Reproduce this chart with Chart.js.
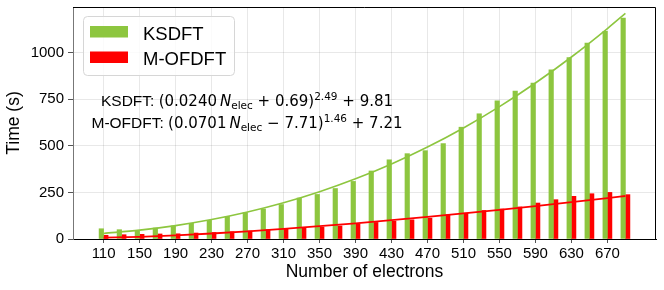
<!DOCTYPE html>
<html>
<head>
<meta charset="utf-8">
<script src="https://cdn.jsdelivr.net/npm/chart.js@4.4.1/dist/chart.umd.min.js"></script>
<style>
  body { margin: 0; background: #fff; }
  canvas { display: block; }
</style>
</head>
<body>
<canvas id="timeChart" width="664" height="290"></canvas>
<script>
// number of electrons for each bar pair
const nElec = [110, 130, 150, 170, 190, 210, 230, 250, 270, 290,
               310, 330, 350, 370, 390, 410, 430, 450, 470, 490,
               510, 530, 550, 570, 590, 610, 630, 650, 670, 690];
// wall time (s)
const ksdftTime = [55, 50, 46, 59, 70, 84, 100, 121, 141, 161,
                   185, 220, 239, 271, 309, 365, 425, 458, 474, 512,
                   600, 672, 742, 794, 837, 908, 973, 1051, 1114, 1186];
const mofdftTime = [20, 23, 25, 27, 28, 32, 35, 39, 43, 50,
                    57, 59, 64, 70, 82, 89, 96, 103, 112, 130,
                    139, 153, 161, 172, 193, 211, 229, 243, 250, 238];
// fitted curves (values of the printed fits)
const fitN = [110, 150, 190, 230, 270, 310, 350, 390, 430, 470, 510, 550, 590, 630, 670, 690];
const ksdftFit = [29.8, 47.4, 71.9, 104.2, 144.8, 194.3, 253.5, 322.7, 402.5, 493.3,
                  595.8, 710.2, 837.1, 976.7, 1129.3, 1210.8];
const mofdftFit = [7.2, 11.7, 19.6, 29.6, 41.3, 54.4, 68.9, 84.4, 101.0, 118.6,
                   137.2, 156.6, 176.8, 197.8, 219.6, 230.7];
// axis ticks
const xTickValues = [110, 150, 190, 230, 270, 310, 350, 390, 430, 470, 510, 550, 590, 630, 670];
const yTickValues = [0, 250, 500, 750, 1000];
const seriesNames = ['KSDFT', 'M-OFDFT'];
// fit labels: [text, kind]
const fitLabels = [
    [['KSDFT: ', 't'], ['(0.0240', 'm'], ['\u2009', 'm'], ['N', 'i'], ['elec', 'sub'],
     [' + 0.69)', 'm'], ['2.49', 'sup'], [' + 9.81', 'm']],
    [['M-OFDFT: ', 't'], ['(0.0701', 'm'], ['\u2009', 'm'], ['N', 'i'], ['elec', 'sub'],
     [' \u2212 7.71)', 'm'], ['1.46', 'sup'], [' + 7.21', 'm']]
];

const green = '#8dc63f';
const red = '#ff0000';
const sans = '"Liberation Sans", Arial, sans-serif';
const mathFont = '"DejaVu Sans", sans-serif';

Chart.defaults.font.family = sans;
Chart.defaults.color = '#000';

function partFont(kind) {
    if (kind === 't') return '15.5px ' + sans;
    if (kind === 'i') return 'italic 15px ' + mathFont;
    if (kind === 'sub' || kind === 'sup') return '10.5px ' + mathFont;
    return '15px ' + mathFont;
}

function drawRich(ctx, parts, cx, baseY) {
    let total = 0;
    parts.forEach(p => { ctx.font = partFont(p[1]); total += ctx.measureText(p[0]).width; });
    let x = cx - total / 2;
    parts.forEach(p => {
        ctx.font = partFont(p[1]);
        let dy = 0;
        if (p[1] === 'sub') dy = 3;
        if (p[1] === 'sup') dy = -6.5;
        ctx.fillText(p[0], x, baseY + dy);
        x += ctx.measureText(p[0]).width;
    });
}

const overlay = {
    id: 'overlay',
    afterDraw(chart) {
        const ctx = chart.ctx;
        const a = chart.chartArea;
        ctx.save();
        // top and right spines
        ctx.strokeStyle = '#000';
        ctx.lineWidth = 1;
        ctx.beginPath();
        ctx.moveTo(a.left, a.top + 0.5);
        ctx.lineTo(a.right - 0.5, a.top + 0.5);
        ctx.lineTo(a.right - 0.5, a.bottom);
        ctx.stroke();

        // legend box
        const lx = a.left + 10, ly = a.top + 9;
        ctx.beginPath();
        ctx.roundRect(lx + 0.5, ly + 0.5, 151, 59, 4);
        ctx.fillStyle = 'rgba(255,255,255,0.8)';
        ctx.fill();
        ctx.strokeStyle = '#d6d6d6';
        ctx.stroke();
        [green, red].forEach((c, i) => {
            ctx.fillStyle = c;
            ctx.fillRect(lx + 7, ly + 10 + i * 25.5, 38, 11.5);
            ctx.fillStyle = '#000';
            ctx.font = '18.5px ' + sans;
            ctx.textBaseline = 'alphabetic';
            ctx.fillText(seriesNames[i], lx + 60, ly + 23.5 + i * 25.5);
        });

        // fit formulas
        ctx.fillStyle = '#000';
        ctx.textBaseline = 'alphabetic';
        drawRich(ctx, fitLabels[0], 247, 106);
        drawRich(ctx, fitLabels[1], 247, 128);
        ctx.restore();
    }
};

const ctx = document.getElementById('timeChart').getContext('2d');
new Chart(ctx, {
    type: 'bar',
    data: {
        datasets: [
            {
                type: 'line',
                data: fitN.map((n, i) => ({ x: n, y: ksdftFit[i] })),
                borderColor: green,
                borderWidth: 1.6,
                pointRadius: 0,
                cubicInterpolationMode: 'monotone',
                order: 0
            },
            {
                type: 'line',
                data: fitN.map((n, i) => ({ x: n, y: mofdftFit[i] })),
                borderColor: red,
                borderWidth: 1.8,
                pointRadius: 0,
                cubicInterpolationMode: 'monotone',
                order: 0
            },
            {
                label: seriesNames[0],
                data: nElec.map((n, i) => ({ x: n, y: ksdftTime[i] })),
                backgroundColor: green,
                barThickness: 4.5,
                order: 1
            },
            {
                label: seriesNames[1],
                data: nElec.map((n, i) => ({ x: n, y: mofdftTime[i] })),
                backgroundColor: red,
                barThickness: 4.5,
                order: 1
            }
        ]
    },
    options: {
        responsive: false,
        animation: false,
        layout: { padding: { top: 7, right: 8, left: 0, bottom: 0 } },
        plugins: {
            legend: { display: false },
            tooltip: { enabled: false }
        },
        scales: {
            x: {
                type: 'linear',
                offset: false,
                min: 76,
                max: 724,
                afterBuildTicks: s => { s.ticks = xTickValues.map(v => ({ value: v })); },
                afterFit: s => { s.height = 51; s.paddingLeft = 0; s.paddingRight = 0; },
                grid: { offset: false, color: 'rgba(0,0,0,0.09)', tickLength: 4, tickColor: '#555' },
                border: { color: '#000', width: 1 },
                ticks: {
                    padding: 1.5,
                    autoSkip: false,
                    maxRotation: 0,
                    font: { size: 15 },
                    callback: v => String(v)
                },
                title: {
                    display: true,
                    text: 'Number of electrons',
                    font: { size: 17.5 },
                    padding: { top: 0, bottom: 7 }
                }
            },
            y: {
                min: 0,
                max: 1245,
                afterBuildTicks: s => { s.ticks = yTickValues.map(v => ({ value: v })); },
                afterFit: s => { s.width = 73; s.paddingTop = 0; s.paddingBottom = 0; },
                grid: { color: 'rgba(0,0,0,0.09)', tickLength: 5, tickColor: '#555' },
                border: { color: '#777', width: 1 },
                ticks: {
                    padding: 4,
                    font: { size: 15 },
                    callback: v => String(v)
                },
                title: {
                    display: true,
                    text: 'Time (s)',
                    font: { size: 17.5 },
                    padding: { top: 3.7, bottom: 0 }
                }
            }
        }
    },
    plugins: [overlay]
});
</script>
</body>
</html>
